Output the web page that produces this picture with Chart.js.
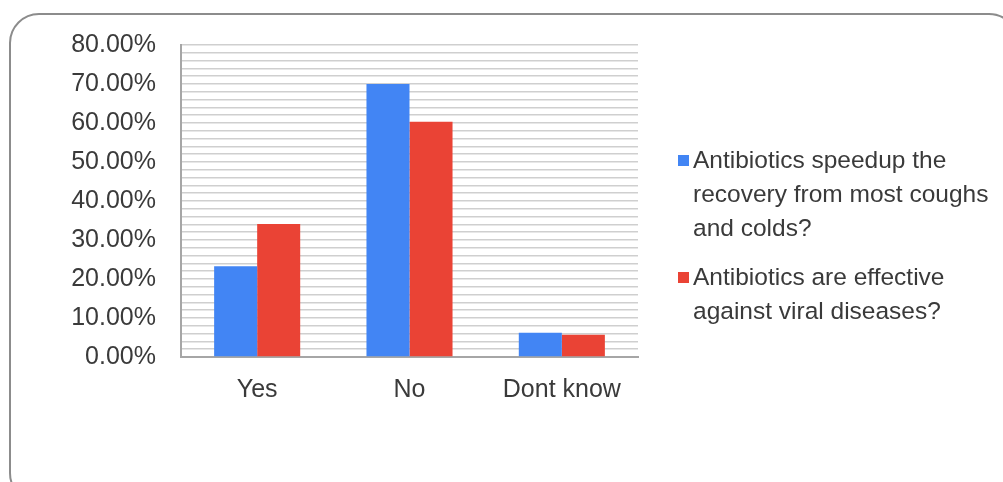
<!DOCTYPE html>
<html>
<head>
<meta charset="utf-8">
<script src="https://cdn.jsdelivr.net/npm/chart.js@4"></script>
<style>
  html, body { margin: 0; padding: 0; background: #fff; }
  #wrap { position: relative; width: 1003px; height: 482px; overflow: hidden; }
  #frame { position: absolute; left: 9px; top: 13px; width: 1010px; height: 490px;
           border: 2px solid #8c8c8c; border-radius: 30px; box-sizing: border-box; }
  canvas { position: absolute; left: 0; top: 0; }
</style>
</head>
<body>
<div id="wrap">
  <div id="frame"></div>
  <canvas id="c" width="1003" height="482"></canvas>
</div>
<script>
const categories = ['Yes', 'No', 'Dont know'];
const seriesNames = [
  'Antibiotics speedup the recovery from most coughs and colds?',
  'Antibiotics are effective against viral diseases?'
];
const legendLines = [
  ['Antibiotics speedup the', 'recovery from most coughs', 'and colds?'],
  ['Antibiotics are effective', 'against viral diseases?']
];
const speedupValues = [23.3, 70.0, 6.2];
const viralValues = [34.1, 60.3, 5.7];
const seriesColors = ['#4285F4', '#EA4335'];
const yMin = 0, yMax = 80, yLabelStep = 10, yGridStep = 2;

const FONT = "'Liberation Sans Narrow', 'Arial Narrow', 'Liberation Sans', sans-serif";
const TEXT = '#3a3a3a';

const legendPlugin = {
  id: 'sideLegend',
  afterDraw(chart) {
    const ctx = chart.ctx;
    ctx.save();
    ctx.font = '24.5px ' + FONT;
    ctx.textBaseline = 'middle';
    ctx.fillStyle = TEXT;
    const starts = [161, 278];
    const lh = 34;
    legendLines.forEach((lines, i) => {
      const y0 = starts[i];
      ctx.fillStyle = seriesColors[i];
      ctx.fillRect(678, y0 - 6, 11, 11);
      ctx.fillStyle = TEXT;
      lines.forEach((t, j) => ctx.fillText(t, 693, y0 + j * lh));
    });
    ctx.restore();
  }
};

new Chart(document.getElementById('c'), {
  type: 'bar',
  data: {
    labels: categories,
    datasets: [
      { label: seriesNames[0], data: speedupValues, backgroundColor: seriesColors[0] },
      { label: seriesNames[1], data: viralValues, backgroundColor: seriesColors[1] }
    ]
  },
  options: {
    responsive: false,
    animation: false,
    layout: { padding: { top: 45, right: 365, bottom: 0, left: 0 } },
    datasets: { bar: { categoryPercentage: 0.565, barPercentage: 1.0 } },
    plugins: { legend: { display: false }, tooltip: { enabled: false } },
    scales: {
      x: {
        grid: { display: false, drawTicks: false },
        border: { display: true, color: '#a6a6a6', width: 2 },
        ticks: { color: TEXT, font: { family: FONT, size: 25 }, padding: 18 },
        afterFit(s) { s.height = 125; }
      },
      y: {
        min: yMin, max: yMax,
        grid: { color: '#cfcfcf', lineWidth: 1.5, drawTicks: false },
        border: { display: true, color: '#a6a6a6', width: 2 },
        ticks: {
          stepSize: yGridStep,
          autoSkip: false,
          color: TEXT,
          font: { family: FONT, size: 25 },
          padding: 25,
          callback: (v) => (v % yLabelStep === 0 ? v.toFixed(2) + '%' : '')
        },
        afterFit(s) { s.width = 181; }
      }
    }
  },
  plugins: [legendPlugin]
});
</script>
</body>
</html>
